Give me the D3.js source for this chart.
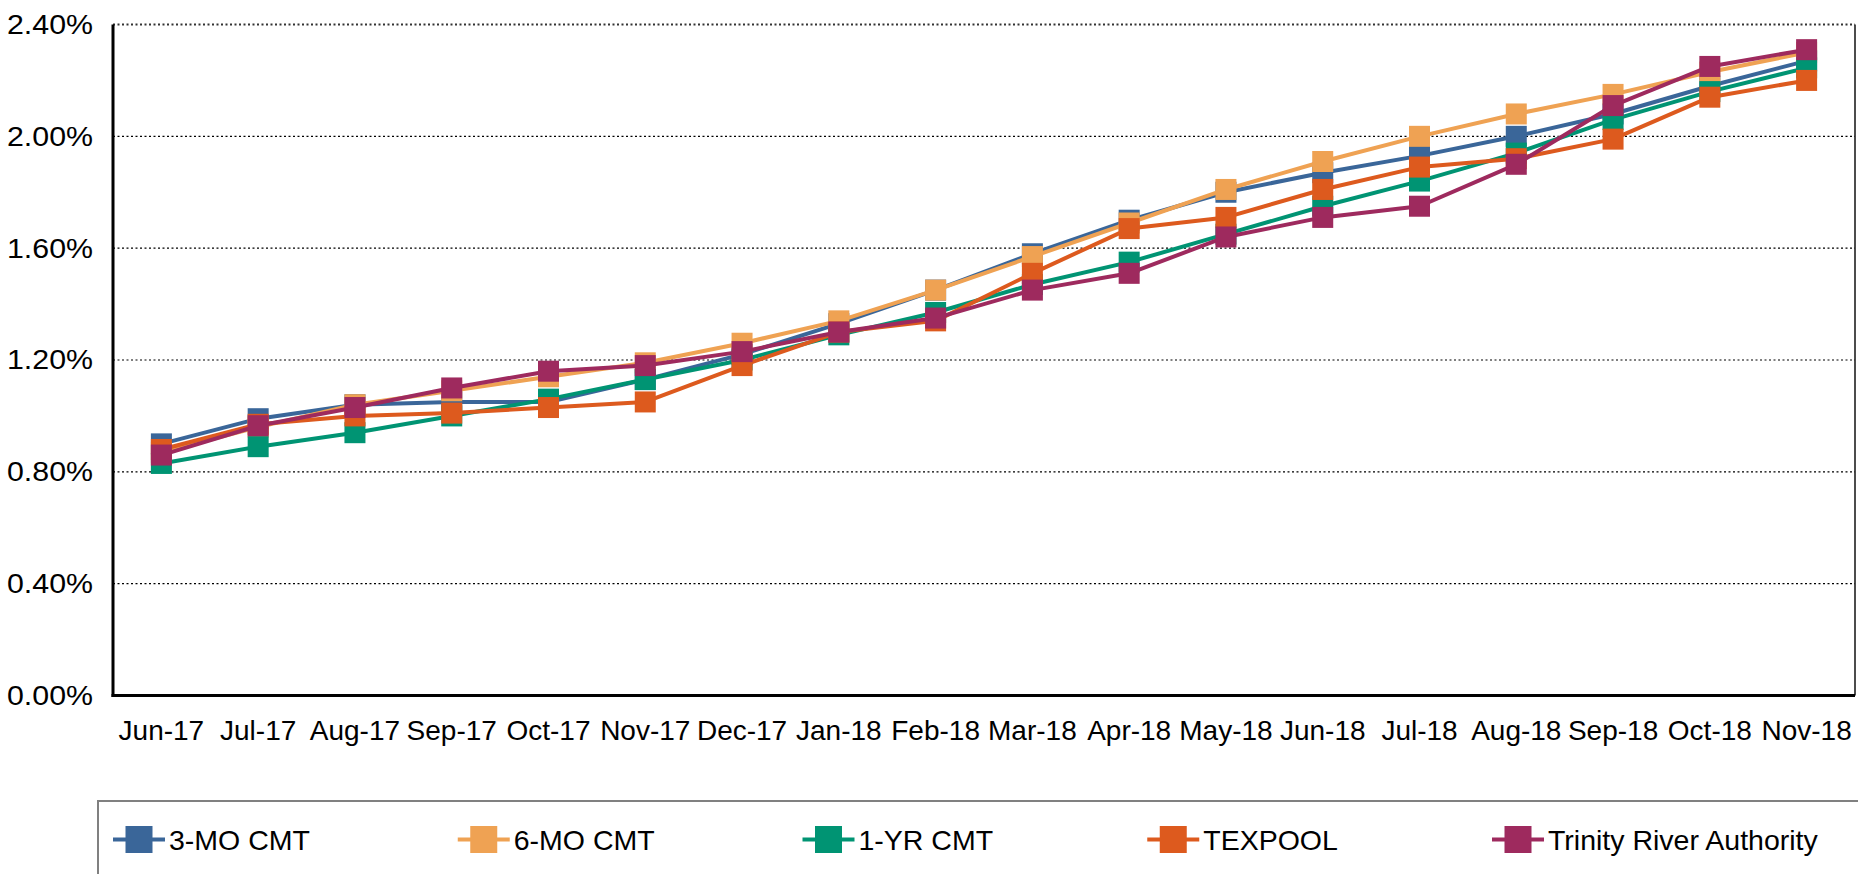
<!DOCTYPE html>
<html>
<head>
<meta charset="utf-8">
<script src="https://cdn.jsdelivr.net/npm/d3@7"></script>
<style>
  html, body { margin: 0; padding: 0; background: #fff; }
  svg { display: block; font-family: "Liberation Sans", Arial, sans-serif; }
</style>
</head>
<body>
<svg id="chart" width="1858" height="874"></svg>
<script>
const categories = ["Jun-17","Jul-17","Aug-17","Sep-17","Oct-17","Nov-17","Dec-17","Jan-18","Feb-18","Mar-18","Apr-18","May-18","Jun-18","Jul-18","Aug-18","Sep-18","Oct-18","Nov-18"];
const seriesNames = ["3-MO CMT","6-MO CMT","1-YR CMT","TEXPOOL","Trinity River Authority"];
const mo3     = [0.90,0.99,1.04,1.05,1.05,1.13,1.22,1.33,1.45,1.58,1.70,1.80,1.87,1.93,2.00,2.08,2.18,2.27];
const mo6     = [0.87,0.96,1.04,1.09,1.14,1.19,1.26,1.34,1.45,1.57,1.69,1.81,1.91,2.00,2.08,2.15,2.23,2.30];
const yr1     = [0.83,0.89,0.94,1.00,1.06,1.13,1.20,1.29,1.37,1.47,1.55,1.65,1.75,1.84,1.94,2.06,2.16,2.245];
const texpool = [0.88,0.97,1.00,1.01,1.03,1.05,1.18,1.30,1.34,1.51,1.67,1.71,1.81,1.89,1.92,1.99,2.14,2.20];
const trinity = [0.86,0.965,1.03,1.10,1.16,1.18,1.23,1.30,1.35,1.45,1.51,1.64,1.71,1.75,1.90,2.11,2.25,2.31];
const yTicks  = [0,0.4,0.8,1.2,1.6,2.0,2.4];
const colors  = ["#3A6699","#EFA253","#009473","#DD5A1E","#9E2A5E"];

const seriesValues = [mo3, mo6, yr1, texpool, trinity];

const svg = d3.select("#chart");
svg.append("rect").attr("width",1858).attr("height",874).attr("fill","#fff");

const plotL = 113, plotR = 1855, plotT = 24.5, plotB = 695.5;

const x = d3.scaleBand().domain(categories).range([plotL, plotR]).paddingInner(0).paddingOuter(0);
const y = d3.scaleLinear().domain([0, 2.4]).range([plotB, plotT]);
const cx = d => x(d) + x.bandwidth()/2;

// gridlines
svg.append("g").selectAll("line").data(yTicks.filter(t => t > 0)).join("line")
  .attr("x1", plotL).attr("x2", plotR)
  .attr("y1", d => y(d)).attr("y2", d => y(d))
  .attr("stroke", d => d === 2.4 ? "#333" : "#000")
  .attr("stroke-width", d => d === 2.4 ? 2 : 1.2)
  .attr("stroke-dasharray", "2,2.5");

// right border
svg.append("line").attr("x1", plotR).attr("x2", plotR).attr("y1", plotT).attr("y2", plotB)
  .attr("stroke", "#111").attr("stroke-width", 1.5);

// Y axis
const yAxis = svg.append("g").attr("transform", `translate(${plotL},0)`)
  .call(d3.axisLeft(y).tickValues(yTicks).tickFormat(d => d3.format(".2f")(d) + "%").tickSize(0).tickPadding(20));
yAxis.select(".domain").remove();
yAxis.selectAll("text").attr("font-size", 28).attr("fill", "#000")
  .attr("font-family", "'Liberation Sans', Arial, sans-serif")
  .attr("textLength", 86).attr("lengthAdjust", "spacingAndGlyphs");

// X axis
const xAxis = svg.append("g").attr("transform", `translate(0,${plotB})`)
  .call(d3.axisBottom(x).tickSize(0));
xAxis.select(".domain").remove();
xAxis.selectAll("text").attr("font-size", 28).attr("fill", "#000")
  .attr("font-family", "'Liberation Sans', Arial, sans-serif")
  .attr("y", 44.5).attr("dy", 0);

// axis lines
svg.append("line").attr("x1", plotL).attr("x2", plotL).attr("y1", plotT).attr("y2", plotB + 1.5)
  .attr("stroke", "#000").attr("stroke-width", 3);
svg.append("line").attr("x1", plotL - 1.5).attr("x2", plotR).attr("y1", plotB).attr("y2", plotB)
  .attr("stroke", "#000").attr("stroke-width", 3);

// series
const line = d3.line().x((d, i) => cx(categories[i])).y(d => y(d));
const ms = 21;
seriesValues.forEach((vals, si) => {
  const g = svg.append("g");
  g.append("path").datum(vals).attr("d", line).attr("fill", "none")
    .attr("stroke", colors[si]).attr("stroke-width", 4).attr("stroke-linejoin", "round");
  g.selectAll("rect").data(vals).join("rect")
    .attr("x", (d, i) => cx(categories[i]) - ms/2)
    .attr("y", d => y(d) - ms/2)
    .attr("width", ms).attr("height", ms)
    .attr("fill", colors[si]);
});

// legend
svg.append("rect").attr("x", 98).attr("y", 801).attr("width", 1900).attr("height", 200)
  .attr("fill", "none").attr("stroke", "#808080").attr("stroke-width", 2);
const legX = d3.scalePoint().domain(seriesNames).range([139, 1518]);
const legY = 839.5;
const lg = svg.append("g").selectAll("g").data(seriesNames).join("g")
  .attr("transform", d => `translate(${legX(d)},${legY})`);
lg.append("line").attr("x1", -26).attr("x2", 26).attr("y1", 0).attr("y2", 0)
  .attr("stroke", (d, i) => colors[i]).attr("stroke-width", 4);
lg.append("rect").attr("x", -13.5).attr("y", -13.5).attr("width", 27).attr("height", 27)
  .attr("fill", (d, i) => colors[i]);
lg.append("text").attr("x", 30).attr("y", 10).attr("font-size", 28.5).attr("fill", "#000")
  .text(d => d);
</script>
</body>
</html>
